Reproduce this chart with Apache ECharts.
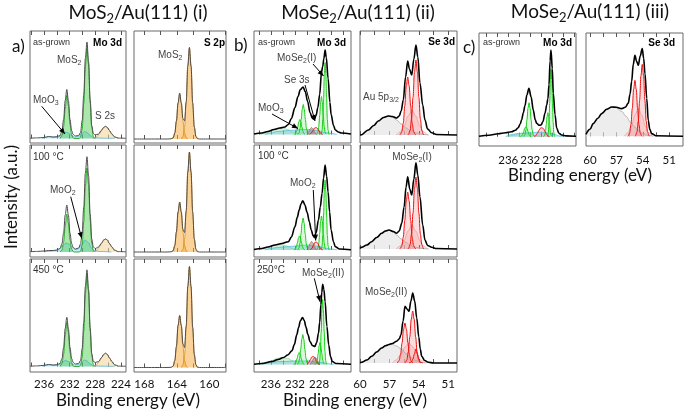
<!DOCTYPE html>
<html><head><meta charset="utf-8">
<script src="https://cdn.jsdelivr.net/npm/echarts@6/dist/echarts.min.js"></script>
<style>html,body{margin:0;padding:0;background:#fff}#c{width:685px;height:412px}</style>
</head><body><div id="c"></div>
<script>
// ---------- axis ticks / labels ----------
const moTicksA = [224,226,228,230,232,234,236,238];
const moLabelsA = [224,228,232,236];
const sTicks = [158,160,162,164,166,168];
const sLabels = [160,164,168];
const moTicksB = [224,226,228,230,232,234,236,238];
const moLabelsB = [228,232,236];
const moTicksC = [224,226,228,230,232,234,236,238,240];
const moLabelsC = [228,232,236];
const seTicks = [51,52.5,54,55.5,57,58.5,60];
const seLabels = [51,54,57,60];

// ---------- MoS2 (i) Mo 3d ----------
const envA1 = [[238.2,0.3],[237,0.6],[236,1],[235.3,2],[234.6,1.5],[234,1.8],[233.5,3],[233.2,8],[232.95,19],[232.7,38],[232.45,49],[232.2,38],[231.95,19],[231.7,8],[231.45,4],[231.1,2.5],[230.6,3],[230.3,6],[230.05,18],[229.8,44],[229.55,80],[229.3,96.5],[229.05,77],[228.8,39],[228.55,13],[228.3,5],[228,3.5],[227.5,4.5],[227,8.5],[226.7,11],[226.4,12.2],[226.1,11],[225.8,8],[225.4,4.5],[225,1.7],[224.4,0.4],[223.2,0.2]];
const grnA1 = [[233.5,0],[233.2,3],[232.95,12],[232.7,30],[232.45,43],[232.2,33],[231.95,14],[231.7,4],[231.45,0.5],[231.3,0],[230.5,0],[230.3,1.5],[230.05,9],[229.8,35],[229.55,72],[229.3,90],[229.05,74],[228.8,36],[228.55,11],[228.3,2],[228.1,0]];
const cyaA1 = [[236.3,0],[235.6,1.5],[235.1,2],[234.5,1],[233.8,1.5],[233.2,4],[232.7,6.5],[232.2,5.5],[231.7,3],[231.2,1.5],[230.6,2],[230.1,5],[229.7,7],[229.3,6],[228.8,3],[228.3,1],[227.5,0.5],[226.5,0.3],[225,0]];
const s2sA1 = [[228.4,0],[227.8,1.5],[227.4,4.5],[227,8],[226.7,11],[226.4,12],[226.1,11],[225.8,8],[225.4,4.5],[225,1.5],[224.4,0]];

const envA2 = [[238.2,0.3],[237,0.6],[236,1],[235.3,1.5],[234.6,1.5],[234,2],[233.5,3.5],[233.2,8.5],[232.95,19],[232.7,37],[232.45,47],[232.2,37],[231.95,19],[231.7,8.5],[231.45,4.5],[231.1,3],[230.6,4],[230.3,8],[230.05,20],[229.8,45],[229.55,79],[229.3,95.3],[229.05,76],[228.8,38],[228.55,13],[228.3,5],[228,3.5],[227.5,5],[227,9],[226.7,12],[226.4,13],[226.1,12],[225.8,8.5],[225.4,5],[225,2],[224.4,0.4],[223.2,0.2]];
const grnA2 = [[233.5,0],[233.2,2],[232.95,10],[232.7,26],[232.45,38],[232.2,29],[231.95,12],[231.7,3],[231.45,0.5],[231.3,0],[230.5,0],[230.3,1],[230.05,7],[229.8,30],[229.55,66],[229.3,84],[229.05,68],[228.8,32],[228.55,9],[228.3,1.5],[228.1,0]];
const cyaA2 = [[236,0],[235.2,1],[234.3,1.5],[233.6,3],[233.1,6.5],[232.6,9],[232.1,8],[231.6,4.5],[231.1,2.5],[230.6,3.5],[230.1,8],[229.6,12],[229.1,9.5],[228.6,4],[228.1,1.5],[227.3,0.5],[225.5,0]];
const s2sA2 = [[228.4,0],[227.8,1.6],[227.4,5],[227,8.6],[226.7,11.8],[226.4,13],[226.1,11.8],[225.8,8.6],[225.4,5],[225,1.6],[224.4,0]];

const envA3 = [[238.2,0.3],[237,0.6],[236,1.2],[235.3,2],[234.6,1.5],[234,1.8],[233.5,3],[233.2,8],[232.95,19],[232.7,38],[232.45,49.3],[232.2,38],[231.95,19],[231.7,8],[231.45,4],[231.1,2.5],[230.6,3],[230.3,6],[230.05,18],[229.8,44],[229.55,80],[229.3,96.7],[229.05,77],[228.8,39],[228.55,13],[228.3,5],[228,4],[227.5,5],[227,9],[226.7,12],[226.4,13.3],[226.1,12],[225.8,8.6],[225.4,5],[225,1.8],[224.4,0.4],[223.2,0.2]];
const grnA3 = [[233.5,0],[233.2,3],[232.95,12],[232.7,31],[232.45,44],[232.2,34],[231.95,14],[231.7,4],[231.45,0.5],[231.3,0],[230.5,0],[230.3,1.5],[230.05,9],[229.8,35],[229.55,73],[229.3,91],[229.05,75],[228.8,36],[228.55,11],[228.3,2],[228.1,0]];
const cyaA3 = [[236.3,0],[235.6,1.5],[235.1,2],[234.5,1],[233.8,1.5],[233.2,4],[232.7,6],[232.2,5],[231.7,3],[231.2,1.5],[230.6,2],[230.1,4.5],[229.7,6.5],[229.3,5.5],[228.8,2.5],[228.3,1],[227.5,0.5],[226.5,0.3],[225,0]];
const s2sA3 = [[228.4,0],[227.8,1.6],[227.4,5],[227,9],[226.7,12],[226.4,13.3],[226.1,12],[225.8,9],[225.4,5],[225,1.6],[224.4,0]];

// ---------- MoS2 (i) S 2p ----------
const envS1 = [[157.95,0],[161.2,0],[161.45,0.3],[161.65,2.5],[161.85,12],[162.05,36],[162.25,73],[162.45,91.6],[162.65,73],[162.85,37],[163.05,18],[163.25,20.5],[163.45,36],[163.65,46],[163.85,36],[164.05,18],[164.25,6],[164.45,1.2],[164.7,0.2],[165.2,0],[169.27,0]];
const p32S1 = [[161.45,0],[161.65,2.5],[161.85,12],[162.05,36],[162.25,73],[162.45,91],[162.65,73],[162.85,36],[163.05,12],[163.25,2.5],[163.45,0]];
const p12S1 = [[162.65,0],[162.85,1.2],[163.05,6],[163.25,18],[163.45,36],[163.65,45],[163.85,36],[164.05,18],[164.25,6],[164.45,1.2],[164.65,0]];
const envS2 = [[157.95,0],[161.2,0],[161.45,0.3],[161.65,2.7],[161.85,13],[162.05,40],[162.25,80],[162.45,100],[162.65,80],[162.85,41],[163.05,19.5],[163.25,22.7],[163.45,40],[163.65,50],[163.85,40],[164.05,20],[164.25,6.5],[164.45,1.3],[164.7,0.2],[165.2,0],[169.27,0]];
const p32S2 = [[161.45,0],[161.65,2.7],[161.85,13],[162.05,40],[162.25,80],[162.45,100],[162.65,80],[162.85,40],[163.05,13],[163.25,2.7],[163.45,0]];
const p12S2 = [[162.65,0],[162.85,1.3],[163.05,6.5],[163.25,20],[163.45,40],[163.65,50],[163.85,40],[164.05,20],[164.25,6.5],[164.45,1.3],[164.65,0]];
const envS3 = [[157.95,0],[161.2,0],[161.45,0.3],[161.65,2.7],[161.85,13],[162.05,40],[162.25,81],[162.45,101],[162.65,81],[162.85,41.4],[163.05,20],[163.25,23.7],[163.45,42],[163.65,52],[163.85,42],[164.05,21],[164.25,7],[164.45,1.4],[164.7,0.2],[165.2,0],[169.27,0]];
const p32S3 = [[161.45,0],[161.65,2.7],[161.85,13],[162.05,40],[162.25,81],[162.45,101],[162.65,81],[162.85,40],[163.05,13],[163.25,2.7],[163.45,0]];
const p12S3 = [[162.65,0],[162.85,1.4],[163.05,7],[163.25,21],[163.45,42],[163.65,52],[163.85,42],[164.05,21],[164.25,7],[164.45,1.4],[164.65,0]];

// ---------- MoSe2 (ii) Mo 3d ----------
const envB1 = [[238.8,0.5],[237.5,1.5],[236.5,3],[235.5,5],[234.5,6.5],[233.7,7.5],[233.1,10],[232.6,16],[232.0,27],[231.5,38],[231.1,45],[230.65,47.5],[230.3,43],[229.9,33],[229.5,22],[229.1,16],[228.8,15],[228.5,19],[228.2,27],[227.9,40],[227.6,62],[227.4,68],[227.2,76],[227.0,84.5],[226.8,77],[226.5,56],[226.2,32],[226.0,20],[225.6,9],[225.3,4.5],[224.8,2.5],[224.3,1.5],[222.7,0.5]];
const grnB1a = [[227.65,0],[227.63,1],[227.5,4.3],[227.38,15],[227.25,36],[227.13,60.5],[227.0,72],[226.88,60.5],[226.75,36],[226.63,15],[226.5,4.3],[226.38,1],[226.35,0]];
const grnB1b = [[228.4,0],[228.35,0.5],[228.2,2.3],[228.05,8],[227.9,19],[227.75,32],[227.6,38],[227.45,32],[227.3,19],[227.15,8],[227.0,2.3],[226.85,0.5],[226.8,0]];
const grnB1c = [[231.55,0],[231.5,0.4],[231.32,1.8],[231.15,6.3],[230.97,15],[230.8,25],[230.62,30],[230.45,25],[230.27,15],[230.1,6.3],[229.92,1.8],[229.75,0.4],[229.7,0]];
const grnB1d = [[232.1,0],[232.07,0.2],[231.9,0.9],[231.72,3.2],[231.55,7.5],[231.37,12.6],[231.2,15],[231.02,12.6],[230.85,7.5],[230.67,3.2],[230.5,0.9],[230.32,0.2],[230.3,0]];
const cyaB1 = [[237,0],[236,1.5],[235,3],[234,3.5],[233,4],[232,4.5],[231,5],[230,5],[229,4.5],[228,3.5],[227,2],[226,1],[225,0]];
const lgrB1 = [[237.8,0],[236.8,1.5],[235.8,4],[234.8,6],[234,6.5],[233.2,5],[232.4,2.5],[231.6,0.8],[231,0]];
const redB1 = [[229.6,0],[229.3,1.5],[229.0,4],[228.75,6.5],[228.5,7],[228.25,6],[228.0,3.5],[227.7,1],[227.4,0]];
const brnB1 = [[230.0,0],[229.75,2.5],[229.5,5.5],[229.25,7],[229.0,5.5],[228.75,2.5],[228.5,0]];

const envB2 = [[238.8,0.5],[237.5,1.5],[236.5,3],[235.3,5],[234.2,6.5],[233.1,8.3],[232.6,13],[232.0,23.3],[231.6,33],[231.3,40],[231.0,46],[230.7,49.3],[230.35,45],[230.0,38],[229.6,28],[229.3,20],[229.0,14.5],[228.8,12.7],[228.5,17],[228.1,30],[227.8,43],[227.5,56.7],[227.25,72],[227.0,85],[226.75,74],[226.5,58],[226.25,38],[226.0,20],[225.6,8],[225.3,3.3],[224.6,1],[222.7,0.3]];
const grnB2a = [[227.65,0],[227.63,1],[227.5,4.2],[227.38,14.7],[227.25,35],[227.13,58.8],[227.0,70],[226.88,58.8],[226.75,35],[226.63,14.7],[226.5,4.2],[226.38,1],[226.35,0]];
const grnB2b = [[228.4,0],[228.35,0.5],[228.2,2],[228.05,7.1],[227.9,17],[227.75,28.6],[227.6,34],[227.45,28.6],[227.3,17],[227.15,7.1],[227.0,2],[226.85,0.5],[226.8,0]];
const grnB2c = [[231.6,0],[231.53,0.4],[231.35,1.9],[231.18,6.7],[231.0,16],[230.83,27],[230.65,32],[230.48,27],[230.3,16],[230.13,6.7],[229.95,1.9],[229.78,0.4],[229.7,0]];
const grnB2d = [[232.15,0],[232.12,0.2],[231.95,0.8],[231.77,2.9],[231.6,7],[231.42,11.8],[231.25,14],[231.07,11.8],[230.9,7],[230.72,2.9],[230.55,0.8],[230.37,0.2],[230.35,0]];
const cyaB2 = [[237,0],[236,1.5],[235,2.5],[234,3],[233,3.5],[232,4],[231,4.5],[230,5],[229,4.5],[228,3.5],[227,2],[226,1],[225,0]];
const lgrB2 = [[238,0],[237,2],[236,4],[235,5.5],[234.2,5.5],[233.4,4],[232.6,2],[231.8,0.7],[231.2,0]];
const redB2 = [[229.5,0],[229.2,1.5],[228.95,4.5],[228.7,7.5],[228.45,8],[228.2,6.5],[227.95,3.5],[227.7,1],[227.4,0]];
const brnB2 = [[230.0,0],[229.75,3],[229.5,6.5],[229.25,8.5],[229.0,7],[228.75,3],[228.5,0]];

const envB3 = [[238.8,0.3],[237.5,1],[235.8,3],[234.8,5],[233.9,7],[233.2,9.5],[232.5,13.7],[232.1,20],[231.7,29.7],[231.4,37],[231.1,43.7],[230.75,47],[230.45,44],[230.2,38],[229.85,30],[229.5,23],[229.1,19],[228.7,18],[228.4,22],[228.1,31.3],[227.9,42],[227.7,59.7],[227.55,72],[227.4,80.3],[227.2,75],[227.0,63],[226.7,38],[226.4,19.7],[226.1,8],[225.8,3],[225.2,1],[222.7,0.3]];
const grnB3a = [[228.05,0],[228.03,0.8],[227.9,3.9],[227.78,13.7],[227.65,32.5],[227.53,54.6],[227.4,65],[227.28,54.6],[227.15,32.5],[227.03,13.7],[226.9,3.9],[226.78,0.8],[226.75,0]];
const grnB3b = [[228.65,0],[228.6,0.3],[228.45,1.3],[228.3,4.6],[228.15,11],[228.0,18.5],[227.85,22],[227.7,18.5],[227.55,11],[227.4,4.6],[227.25,1.3],[227.1,0.3],[227.05,0]];
const grnB3c = [[231.6,0],[231.58,0.4],[231.4,1.8],[231.23,6.3],[231.05,15],[230.88,25],[230.7,30],[230.53,25],[230.35,15],[230.18,6.3],[230.0,1.8],[229.83,0.4],[229.8,0]];
const grnB3d = [[232.2,0],[232.17,0.2],[232.0,0.7],[231.82,2.5],[231.65,6],[231.47,10],[231.3,12],[231.12,10],[230.95,6],[230.77,2.5],[230.6,0.7],[230.42,0.2],[230.4,0]];
const cyaB3 = [[237.5,0],[236.5,1.5],[235.5,2.5],[234.5,3],[233.5,3],[232.5,3.5],[231.5,3.5],[230.5,3.5],[229.5,3.5],[228.5,3],[227.5,2],[226.5,0.8],[225.5,0]];
const lgrB3 = [[238,0],[237,1.5],[236,3.5],[235,6],[234.1,7],[233.2,6],[232.3,3.5],[231.4,1.2],[230.6,0]];
const redB3 = [[230.0,0],[229.7,2],[229.45,5],[229.2,7.5],[228.95,8],[228.7,6.5],[228.45,3.5],[228.2,1],[227.9,0]];
const brnB3 = [[229.5,0],[229.2,2.5],[228.95,5.5],[228.7,7.5],[228.45,6],[228.2,2.5],[228.0,0]];

// ---------- MoSe2 (ii) Se 3d ----------
const envBs1 = [[60,0],[59.9,0],[59.15,5],[58.6,9.5],[58.13,14],[57.6,17.5],[57.11,19],[56.7,18.5],[56.26,17],[56.0,19],[55.8,24],[55.58,35],[55.35,58],[55.13,74],[54.95,66],[54.72,60],[54.5,76],[54.29,90],[54.1,78],[53.88,52],[53.6,30],[53.37,15],[53.1,6],[52.68,2.3],[52.2,0.5],[50.1,0]];
const auBs1 = [[59.9,0],[59.15,5],[58.6,9.5],[58.13,14],[57.6,17.5],[57.11,19],[56.7,18],[56.26,15],[55.8,11],[55.3,7],[54.8,4],[54.2,2],[53.5,0.5],[53,0]];
const r1Bs1 = [[55.1,0],[55.04,1],[54.89,4.5],[54.74,16],[54.59,37.5],[54.44,63],[54.29,75],[54.14,63],[53.99,37.5],[53.84,16],[53.69,4.5],[53.54,1],[53.5,0]];
const r2Bs1 = [[55.95,0],[55.88,0.8],[55.73,3.5],[55.58,12],[55.43,29],[55.28,49],[55.13,58],[54.98,49],[54.83,29],[54.68,12],[54.53,3.5],[54.38,0.8],[54.3,0]];
const pkBs1 = [[56.3,0],[55.9,3],[55.5,9],[55.1,19],[54.7,25],[54.3,19],[53.9,9],[53.5,3],[53.1,0]];

const envBs2 = [[60,0.5],[59.83,1.7],[59.3,4],[58.81,7.3],[58.3,11.5],[57.79,15.7],[57.4,18],[57.04,19],[56.6,17.5],[56.26,15.7],[56.0,18],[55.74,25.7],[55.5,42],[55.3,62],[55.13,72.3],[54.92,60],[54.72,54],[54.5,70],[54.29,86.3],[54.1,74],[53.88,52.3],[53.6,24],[53.37,9],[53.1,3.5],[52.68,1.7],[52.2,0.5],[50.1,0]];
const auBs2 = [[60,0.5],[59.83,1.7],[59.3,4],[58.81,7.3],[58.3,11.5],[57.79,15.7],[57.4,18],[57.04,19],[56.6,17],[56.26,14],[55.8,10],[55.3,6.5],[54.8,3.5],[54.2,1.5],[53.5,0.3],[53,0]];
const r1Bs2 = [[55.1,0],[55.04,1],[54.89,4.3],[54.74,15],[54.59,36],[54.44,60.5],[54.29,72],[54.14,60.5],[53.99,36],[53.84,15],[53.69,4.3],[53.54,1],[53.5,0]];
const r2Bs2 = [[55.95,0],[55.88,0.8],[55.73,3.4],[55.58,12],[55.43,28.5],[55.28,48],[55.13,57],[54.98,48],[54.83,28.5],[54.68,12],[54.53,3.4],[54.38,0.8],[54.3,0]];
const pkBs2 = [[56.3,0],[55.9,3],[55.5,8.5],[55.1,18],[54.7,24],[54.3,18],[53.9,8.5],[53.5,3],[53.1,0]];

const envBs3 = [[60,0.3],[59.83,0.7],[59.3,3],[58.81,6.7],[58.3,11],[57.79,15],[57.4,17.3],[57.11,18.3],[56.7,19.5],[56.26,21.7],[56.0,24],[55.82,28.3],[55.6,42],[55.41,56.7],[55.2,54],[55.0,51.7],[54.8,62],[54.62,70],[54.42,62],[54.21,45],[54.0,26],[53.85,14],[53.7,6.7],[53.4,2.5],[53.03,0.7],[52.5,0],[50.1,0]];
const auBs3 = [[60,0.3],[59.83,0.7],[59.3,3],[58.81,6.7],[58.3,11],[57.79,15],[57.4,17.3],[57.11,18.3],[56.7,18.5],[56.26,17],[55.8,14],[55.3,9.5],[54.8,5.5],[54.3,2.5],[53.7,0.6],[53.2,0]];
const raBs3 = [[56.2,0],[56.16,0.5],[56.01,2.4],[55.86,8.4],[55.71,20],[55.56,33.6],[55.41,40],[55.26,33.6],[55.11,20],[54.96,8.4],[54.81,2.4],[54.66,0.5],[54.6,0]];
const rbBs3 = [[55.4,0],[55.37,0.7],[55.22,3.1],[55.07,11],[54.92,26],[54.77,43.7],[54.62,52],[54.47,43.7],[54.32,26],[54.17,11],[54.02,3.1],[53.87,0.7],[53.8,0]];
const rcBs3 = [[55.0,0],[54.75,1],[54.6,4],[54.45,9],[54.3,14],[54.15,9],[54.0,4],[53.85,1],[53.6,0]];
const pkBs3 = [[56.7,0],[56.3,3],[55.8,9],[55.4,16],[55.0,20],[54.6,16],[54.2,9],[53.8,3],[53.4,0]];

// ---------- MoSe2 (iii) ----------
const envC = [[241.3,0.5],[239.5,1.5],[237.8,3],[236.5,4],[235.4,5],[234.7,6.5],[234.2,9],[233.8,13],[233.56,17],[233.25,24],[232.96,31],[232.6,42],[232.24,48.4],[231.85,40],[231.45,26.7],[231.1,17],[230.84,13.4],[230.4,11.5],[230.05,11.7],[229.7,15],[229.33,23.4],[229.0,32],[228.8,38],[228.6,52],[228.4,76],[228.24,86.7],[228.0,68],[227.82,43.4],[227.5,22],[227.2,8.4],[226.8,3.5],[226.29,1.7],[225.5,0.8],[223.7,0.5]];
const grnCa = [[228.87,0],[228.85,0.9],[228.72,4.1],[228.6,14.3],[228.47,34],[228.35,57],[228.22,68],[228.1,57],[227.97,34],[227.85,14.3],[227.72,4.1],[227.6,0.9],[227.55,0]];
const grnCb = [[229.6,0],[229.55,0.3],[229.4,1.4],[229.25,5],[229.1,12],[228.95,20],[228.8,24],[228.65,20],[228.5,12],[228.35,5],[228.2,1.4],[228.05,0.3],[228.0,0]];
const grnCc = [[233.2,0],[233.16,0.4],[232.97,2],[232.78,7.1],[232.6,17],[232.41,28.6],[232.22,34],[232.03,28.6],[231.85,17],[231.66,7.1],[231.47,2],[231.28,0.4],[231.25,0]];
const grnCd = [[233.8,0],[233.6,0.6],[233.4,2.1],[233.2,5],[233.0,8.4],[232.8,10],[232.6,8.4],[232.4,5],[232.2,2.1],[232.0,0.6],[231.8,0]];
const redC = [[231.3,0],[231.0,1],[230.7,3.5],[230.4,6.5],[230.15,8.5],[229.9,9],[229.6,8],[229.3,5],[229.0,2],[228.7,0.5],[228.5,0]];
const cyaC = [[236.5,0],[235.5,2],[234.5,3],[233.5,3.5],[232.5,4],[231.5,4],[230.5,4.5],[229.5,4.5],[228.5,3.5],[227.5,2],[226.5,0.5],[226,0]];
const lgrC = [[236,0],[235,1.5],[234,3],[233,3.5],[232,2.5],[231,1],[230,0]];

const envCs = [[60.45,2],[60.0,7],[59.63,12.7],[59.1,18],[58.67,22.7],[58.1,27],[57.53,29.3],[57.0,29],[56.4,27.7],[56.0,29],[55.65,33],[55.45,42],[55.26,55],[55.08,72],[54.89,81],[54.7,75],[54.51,71],[54.3,80],[54.06,87.7],[53.9,78],[53.75,62.7],[53.55,38],[53.38,16],[53.2,7],[52.99,2.7],[52.5,0.5],[49.43,0]];
const auCs = [[60.45,2],[60.0,7],[59.63,12.7],[59.1,18],[58.67,22.7],[58.1,27],[57.53,29.3],[57.0,28.5],[56.4,25],[55.9,20],[55.4,14],[54.9,9],[54.4,5],[53.9,2.5],[53.4,1],[52.8,0]];
const r1Cs = [[54.85,0],[54.81,1],[54.66,4.5],[54.51,15],[54.36,36],[54.21,60.5],[54.06,72],[53.91,60.5],[53.76,36],[53.61,15],[53.46,4.5],[53.31,1],[53.25,0]];
const r2Cs = [[55.7,0],[55.64,0.7],[55.49,3.4],[55.34,12],[55.19,28],[55.04,47],[54.89,56],[54.74,47],[54.59,28],[54.44,12],[54.29,3.4],[54.14,0.7],[54.1,0]];
const pkCs = [[56.1,0],[55.7,3.5],[55.3,10],[54.9,21],[54.5,28],[54.1,21],[53.7,10],[53.3,3.5],[52.9,0]];

// ---------- styles ----------
const STY = {
  envA:{line:'#4d4d4d',w:1},
  envK:{line:'#000',w:1.6},
  grnA:{line:'#139a13',w:0.8,fill:'rgba(70,200,70,0.65)'},
  cyaA:{line:'#2aa6d6',w:0.6,fill:'rgba(90,200,235,0.55)'},
  s2s:{line:'#c59a55',w:0.8,fill:'rgba(243,214,160,0.85)'},
  orS:{line:'#d98a14',w:0.8,fill:'rgba(247,172,60,0.75)'},
  grn:{line:'#10d010',w:1,fill:'rgba(110,225,110,0.35)'},
  cya:{line:'#30b0e0',w:0.6,fill:'rgba(80,190,235,0.6)'},
  lgr:{line:'#7cc890',w:0.6,fill:'rgba(150,215,170,0.55)'},
  red:{line:'#ee1010',w:1,fill:'rgba(240,90,90,0.3)'},
  pnk:{line:'rgba(225,110,110,0.7)',w:0.6,fill:'rgba(240,150,150,0.3)'},
  brn:{line:'#7a5a40',w:0.6,fill:'rgba(140,105,80,0.6)'},
  au:{line:'#a8a8a8',w:0.8,fill:'rgba(226,226,226,0.9)'}
};
const AX = {
  A:{min:223.2,max:238.2,ticks:moTicksA,labels:moLabelsA},
  S:{min:157.95,max:169.27,ticks:sTicks,labels:sLabels},
  B:{min:222.7,max:238.8,ticks:moTicksB,labels:moLabelsB},
  Bs:{min:50.1,max:60,ticks:seTicks,labels:seLabels},
  C:{min:223.7,max:241.3,ticks:moTicksC,labels:moLabelsC},
  Cs:{min:49.43,max:60.45,ticks:seTicks,labels:seLabels}
};
const PANELS = [
  {r:[30,31,96,112],ax:'A',y0:-4.5,s:[['cyaA',cyaA1],['grnA',grnA1],['s2s',s2sA1],['envA',envA1]]},
  {r:[30,145,96,112],ax:'A',y0:-5,s:[['cyaA',cyaA2],['grnA',grnA2],['s2s',s2sA2],['envA',envA2]]},
  {r:[30,259,96,113],ax:'A',y0:-5.5,lab:6,s:[['cyaA',cyaA3],['grnA',grnA3],['s2s',s2sA3],['envA',envA3]]},
  {r:[134,31,92,112],ax:'S',y0:-4,s:[['orS',p12S1],['orS',p32S1],['envA',envS1]]},
  {r:[134,145,92,112],ax:'S',y0:-5,s:[['orS',p12S2],['orS',p32S2],['envA',envS2]]},
  {r:[134,259,92,113],ax:'S',y0:-4.5,lab:6,s:[['orS',p12S3],['orS',p32S3],['envA',envS3]]},
  {r:[254,31,97,112],ax:'B',y0:-8.5,s:[['cya',cyaB1],['lgr',lgrB1],['grn',grnB1d],['grn',grnB1c],['grn',grnB1b],['grn',grnB1a],['red',redB1],['brn',brnB1],['envK',envB1]]},
  {r:[254,145,97,112],ax:'B',y0:-7,s:[['cya',cyaB2],['lgr',lgrB2],['grn',grnB2d],['grn',grnB2c],['grn',grnB2b],['grn',grnB2a],['red',redB2],['brn',brnB2],['envK',envB2]]},
  {r:[254,259,97,113],ax:'B',y0:-7.5,lab:6,s:[['cya',cyaB3],['lgr',lgrB3],['grn',grnB3d],['grn',grnB3c],['grn',grnB3b],['grn',grnB3a],['red',redB3],['brn',brnB3],['envK',envB3]]},
  {r:[360,31,97,112],ax:'Bs',y0:-8,s:[['au',auBs1],['pnk',pkBs1],['red',r2Bs1],['red',r1Bs1],['envK',envBs1]]},
  {r:[360,145,97,112],ax:'Bs',y0:-8,s:[['au',auBs2],['pnk',pkBs2],['red',r2Bs2],['red',r1Bs2],['envK',envBs2]]},
  {r:[360,259,97,113],ax:'Bs',y0:-9,lab:6,s:[['au',auBs3],['pnk',pkBs3],['red',raBs3],['red',rbBs3],['red',rcBs3],['envK',envBs3]]},
  {r:[479,33,97,113],ax:'C',y0:-9.3,lab:8,s:[['cya',cyaC],['lgr',lgrC],['grn',grnCd],['grn',grnCc],['grn',grnCb],['grn',grnCa],['red',redC],['envK',envC]]},
  {r:[586,33,97,113],ax:'Cs',y0:-9.7,lab:8,s:[['au',auCs],['pnk',pkCs],['red',r2Cs],['red',r1Cs],['envK',envCs]]}
];

const FT = 'Lato, "Open Sans", sans-serif';
const FL = '"Liberation Sans", Arial, sans-serif';
const grid=[], xAxis=[], yAxis=[], series=[];
PANELS.forEach((p,i)=>{
  const a = AX[p.ax];
  grid.push({left:p.r[0],top:p.r[1],width:p.r[2],height:p.r[3],show:true,borderColor:'#6a6a6a',borderWidth:1,backgroundColor:'transparent',containLabel:false});
  const base = {type:'value',gridIndex:i,min:a.min,max:a.max,inverse:true,axisLine:{show:false},splitLine:{show:false},
    axisTick:{show:true,inside:true,length:4,customValues:a.ticks,lineStyle:{color:'#555',width:1}}};
  xAxis.push(Object.assign({},base,{position:'bottom',
    axisLabel:{show:!!p.lab,customValues:a.labels,margin:p.lab||6,color:'#111',fontFamily:FT,fontSize:11.5}}));
  xAxis.push(Object.assign({},base,{position:'top',axisLabel:{show:false}}));
  yAxis.push({type:'value',gridIndex:i,min:p.y0,max:p.y0+p.r[3],show:false,splitLine:{show:false}});
  p.s.forEach(([k,d])=>{
    const st = STY[k];
    const s = {type:'line',xAxisIndex:2*i,yAxisIndex:i,data:d,showSymbol:false,symbol:'none',smooth:0.35,smoothMonotone:'x',
      lineStyle:{color:st.line,width:st.w},silent:true,animation:false,z:k.startsWith('env')?5:2};
    if(st.fill) s.areaStyle={color:st.fill,origin:'auto'};
    series.push(s);
  });
});

// ---------- text annotations ----------
const G=[];
function txt(x,y,text,o){
  o=o||{};
  const fs=o.fs||10;
  G.push({type:'text',x:x,y:y,z:100,rotation:o.rot||0,style:{text:text,fontFamily:o.ff||FL,fontSize:fs,fontWeight:o.fw||'normal',
    fill:o.c||'#333',align:o.al||'left',verticalAlign:'middle',lineHeight:Math.round(fs*1.3),
    rich:{s:{fontSize:Math.round(fs*0.68),lineHeight:Math.round(fs*0.7),verticalAlign:'bottom',fontFamily:o.ff||FL,fill:o.c||'#333'}}}});
}
function arrow(x1,y1,x2,y2){
  G.push({type:'line',z:100,shape:{x1:x1,y1:y1,x2:x2,y2:y2},style:{stroke:'#000',lineWidth:1}});
  const dx=x2-x1, dy=y2-y1, L=Math.sqrt(dx*dx+dy*dy), ux=dx/L, uy=dy/L, hl=6, hw=2.6;
  G.push({type:'polygon',z:101,shape:{points:[[x2,y2],[x2-ux*hl-uy*hw,y2-uy*hl+ux*hw],[x2-ux*hl+uy*hw,y2-uy*hl-ux*hw]]},style:{fill:'#000'}});
}
// titles
txt(138,13,'MoS{s|2}/Au(111) (i)',{ff:FT,fs:19,c:'#111',al:'center'});
txt(358,13,'MoSe{s|2}/Au(111) (ii)',{ff:FT,fs:19,c:'#111',al:'center'});
txt(590,12,'MoSe{s|2}/Au(111) (iii)',{ff:FT,fs:19,c:'#111',al:'center'});
txt(12,47,'a)',{ff:FT,fs:17,c:'#111'});
txt(234,46,'b)',{ff:FT,fs:17,c:'#111'});
txt(463,48,'c)',{ff:FT,fs:17,c:'#111'});
txt(12,197,'Intensity (a.u.)',{ff:FT,fs:17,c:'#111',al:'center',rot:Math.PI/2});
txt(128,401,'Binding energy (eV)',{ff:FT,fs:17,c:'#111',al:'center'});
txt(355,401,'Binding energy (eV)',{ff:FT,fs:17,c:'#111',al:'center'});
txt(580,176,'Binding energy (eV)',{ff:FT,fs:17,c:'#111',al:'center'});
// panel labels
txt(33,43,'as-grown',{fs:9});
txt(122,43,'Mo 3d',{fs:10,fw:'bold',c:'#000',al:'right'});
txt(57,60,'MoS{s|2}',{c:'#444'});
txt(33,100,'MoO{s|3}',{c:'#444'});
txt(95,116,'S 2s',{c:'#444'});
txt(225,43,'S 2p',{fs:10,fw:'bold',c:'#000',al:'right'});
txt(158,55,'MoS{s|2}',{c:'#444'});
txt(33,157,'100 °C');
txt(50,190,'MoO{s|2}',{c:'#444'});
txt(33,270,'450 °C');
txt(258,43,'as-grown',{fs:9});
txt(346,43,'Mo 3d',{fs:10,fw:'bold',c:'#000',al:'right'});
txt(277,58,'MoSe{s|2}(I)',{c:'#444'});
txt(284,80,'Se 3s',{c:'#444'});
txt(258,108,'MoO{s|3}',{c:'#444'});
txt(455,42,'Se 3d',{fs:10,fw:'bold',c:'#000',al:'right'});
txt(363,97,'Au 5p{s|3/2}',{c:'#444'});
txt(258,156,'100 °C');
txt(290,183,'MoO{s|2}',{c:'#444'});
txt(412,157,'MoSe{s|2}(I)',{c:'#444',al:'center'});
txt(257,270,'250°C');
txt(302,273,'MoSe{s|2}(II)',{c:'#444'});
txt(365,292,'MoSe{s|2}(II)',{c:'#444'});
txt(483,43,'as-grown',{fs:9});
txt(572,43,'Mo 3d',{fs:10,fw:'bold',c:'#000',al:'right'});
txt(675,43,'Se 3d',{fs:10,fw:'bold',c:'#000',al:'right'});
// arrows
arrow(41.7,106.3,65,134);
arrow(70.7,196.7,81.7,238.3);
arrow(313,64,323.5,76);
arrow(305,85,315,121);
arrow(272,114,298,128.5);
arrow(313.3,190,315.7,240.5);
arrow(314.3,278.3,320,301.7);

const chart = echarts.init(document.getElementById('c'),null,{renderer:'canvas'});
chart.setOption({animation:false,grid:grid,xAxis:xAxis,yAxis:yAxis,series:series,graphic:G});
</script></body></html>
